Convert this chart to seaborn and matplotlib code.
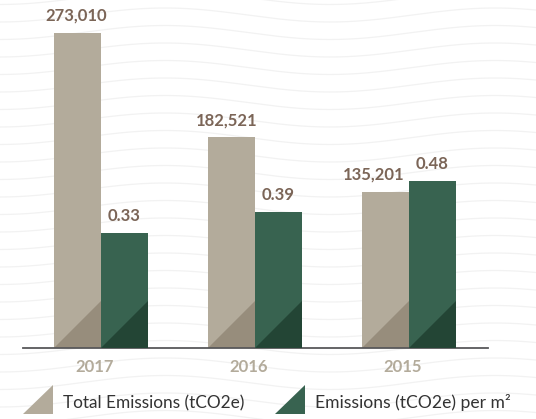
import numpy as np
import pandas as pd
import matplotlib
matplotlib.use("Agg")
import matplotlib.pyplot as plt
from matplotlib.patches import Polygon
import seaborn as sns

# ---- data ----
years = ["2017", "2016", "2015"]
total_emissions = [273010, 182521, 135201]
emissions_per_m2 = [0.33, 0.39, 0.48]
total_labels = ["273,010", "182,521", "135,201"]
per_m2_labels = ["0.33", "0.39", "0.48"]
series_names = ["Total Emissions (tCO2e)", "Emissions (tCO2e) per m²"]

# ---- style ----
TAN, TAN_DARK = "#B3AB9B", "#978D7C"
GREEN, GREEN_DARK = "#386350", "#234535"
LABEL_COL = "#7B6557"
W, H, DPI = 536, 419, 100
# horizontal nudges (pixels) for the value labels, keeps neighbours apart
total_label_dx = [-1.5, -5, -12]
per_m2_label_dx = [0, 0, 0]

sns.set_theme(style="white")
plt.rcParams["font.family"] = ["Lato", "DejaVu Sans"]

fig = plt.figure(figsize=(W / DPI, H / DPI), dpi=DPI)
fig.patch.set_facecolor("white")

# background layer in pixel coordinates: faint wavy lines + legend
bg = fig.add_axes([0, 0, 1, 1], zorder=0)
bg.set_xlim(0, W)
bg.set_ylim(H, 0)
bg.axis("off")
xs = np.linspace(0, W, 400)
for y0 in np.arange(-20, H + 30, 17.5):
    bg.plot(xs, y0 + 7 * np.cos(2 * np.pi * xs / 330), color="#F2F2F2", lw=0.9, zorder=1)

# main plotting area
left, right, base, top = 23, 488, 348, 0
ax = fig.add_axes([left / W, (H - base) / H, (right - left) / W, (base - top) / H])
ax.set_zorder(1)
ax.patch.set_alpha(0)
ax2 = ax.twinx()
ax2.set_zorder(2)
ax2.patch.set_alpha(0)

df_total = pd.DataFrame({"year": years, "value": total_emissions, "series": series_names[0]})
df_m2 = pd.DataFrame({"year": years, "value": emissions_per_m2, "series": series_names[1]})
palette = {series_names[0]: TAN, series_names[1]: GREEN}
kw = dict(x="year", y="value", hue="series", hue_order=series_names, palette=palette,
          order=years, width=0.61, dodge=True, legend=False, saturation=1, errorbar=None,
          linewidth=0, edgecolor="none")
sns.barplot(data=df_total, ax=ax, **kw)
sns.barplot(data=df_m2, ax=ax2, **kw)

xlim = (-0.506, 2.513)
ax.set_xlim(*xlim)
ax2.set_xlim(*xlim)
ymax_total = 273010 * 348 / 315
ymax_m2 = 1.0
ax.set_ylim(0, ymax_total)
ax2.set_ylim(0, ymax_m2)

px_per_x = (right - left) / (xlim[1] - xlim[0])
plot_h = base - top


def decorate(axis, ymax, dark, labels, nudges):
    bars = sorted([p for p in axis.patches if np.isfinite(p.get_height())], key=lambda p: p.get_x())
    for p, lab, dx in zip(bars, labels, nudges):
        x0, w, h = p.get_x(), p.get_width(), p.get_height()
        tri_h = w * px_per_x * ymax / plot_h
        axis.add_patch(Polygon([(x0, 0), (x0 + w, 0), (x0 + w, tri_h)],
                               closed=True, facecolor=dark, edgecolor="none", zorder=3))
        axis.annotate(lab, xy=(x0 + w / 2, h), xytext=(dx, 12), textcoords="offset pixels",
                      ha="center", va="baseline", fontsize=12, fontweight="bold",
                      color=LABEL_COL)


decorate(ax, ymax_total, TAN_DARK, total_labels, total_label_dx)
decorate(ax2, ymax_m2, GREEN_DARK, per_m2_labels, per_m2_label_dx)

for a in (ax, ax2):
    a.set_xlabel("")
    a.set_ylabel("")
    a.set_yticks([])
    for s in a.spines.values():
        s.set_visible(False)
ax.spines["bottom"].set_visible(True)
ax.spines["bottom"].set_color("#58585A")
ax.spines["bottom"].set_linewidth(1.3)
ax.spines["bottom"].set_zorder(5)
ax.set_xticks([])

# year labels under each group
for i, yr in enumerate(years):
    ax.annotate(yr, xy=(i, 0), xytext=(-6, -11), textcoords="offset pixels",
                ha="center", va="top", fontsize=12, fontweight="bold", color=TAN,
                annotation_clip=False)

# legend
bg.add_patch(Polygon([(23, 414), (53, 414), (53, 385)], closed=True,
                     facecolor=TAN, edgecolor="none", zorder=3))
bg.text(63, 408, series_names[0], fontsize=12.4, color="#333333", va="baseline", ha="left", zorder=3)
bg.add_patch(Polygon([(275, 414), (305, 414), (305, 385)], closed=True,
                     facecolor=GREEN, edgecolor="none", zorder=3))
bg.text(315, 408, series_names[1], fontsize=12.6, color="#333333", va="baseline", ha="left", zorder=3)

fig.savefig("out.png", dpi=DPI, facecolor="white")
